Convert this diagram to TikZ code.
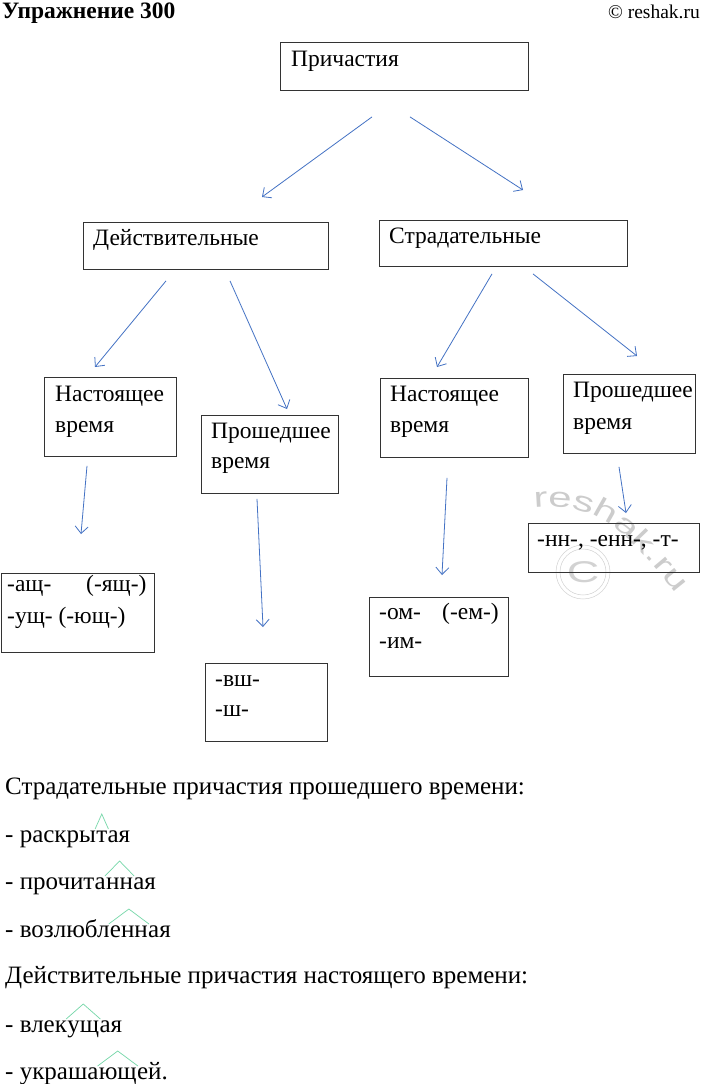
\documentclass[tikz,border=0pt]{standalone}
\usepackage{fontspec}
\setmainfont{Liberation Serif}
\newfontfamily\wmfont{Liberation Sans}[FakeStretch=1.5]
\usepackage{tikz}
\usetikzlibrary{positioning,arrows.meta,decorations.text}
\definecolor{arrblue}{HTML}{4472C4}
\definecolor{markgreen}{HTML}{74D7A8}
\tikzset{>={Straight Barb[length=7pt,width=13pt]}}
\tikzset{box/.style={draw=black!80, line width=0.9pt, inner sep=0pt, anchor=north west}}
\tikzset{lbl/.style={inner sep=0pt, anchor=base west, font=\fontsize{23.5}{28}\selectfont}}
\tikzset{txt/.style={inner sep=0pt, anchor=base west, font=\fontsize{25}{30}\selectfont}}
\tikzset{arr/.style={->, arrblue, line width=0.8pt}}
\tikzset{suf/.style={markgreen, line width=0.7pt}}
\tikzset{wm/.style={gray!35, line width=0.5pt}}

\begin{document}
\begin{tikzpicture}[x=1pt,y=-1pt]
	\fill[white] (0,0) rectangle (704,1084);
	\useasboundingbox (0,0) rectangle (704,1084);
	
	% watermark
	\draw[wm] (583,572) circle (27);
	\draw[wm] (583,572) circle (23);
	\node[inner sep=0pt, text=gray!35, font=\wmfont\fontsize{30}{30}\selectfont] (wmC) at (583,572) {C};
	\path[decorate, decoration={text along path, text color=gray!40,
		text={|\wmfont\fontsize{28}{28}\selectfont|reshak.ru}}]
		(534,508) .. controls (600,502) and (625,528) .. (690,612);
	
	\node[inner sep=0pt, anchor=base west, font=\fontsize{23.5}{28}\selectfont\bfseries] (title) at (2,19) {Упражнение 300};
	\node[inner sep=0pt, anchor=base east, font=\fontsize{19.5}{24}\selectfont] (site) at (700,19) {© reshak.ru};
	
	% boxes
	\node[box, minimum width=248, minimum height=48] (prich) at (280,42) {};
	\node[box, minimum width=245, minimum height=47] (deist) at (83,222) {};
	\node[box, minimum width=248, minimum height=46] (strad) at (379,220) {};
	\node[box, minimum width=132, minimum height=79] (nastL) at (44,377) {};
	\node[box, minimum width=137, minimum height=78] (proshL) at (201,415) {};
	\node[box, minimum width=148, minimum height=79] (nastR) at (380,378) {};
	\node[box, minimum width=132, minimum height=79] (proshR) at (563,374) {};
	\node[box, minimum width=153, minimum height=79] (ashch) at (1,573) {};
	\node[box, minimum width=122, minimum height=78] (vsh) at (205,663) {};
	\node[box, minimum width=139, minimum height=79] (om) at (369,597) {};
	\node[box, minimum width=171, minimum height=49] (nn) at (528,523) {};
	
	% labels
	\node[lbl] (prichT) at ([shift={(11,24)}]prich.north west) {Причастия};
	\node[lbl] (deistT) at ([shift={(10,23)}]deist.north west) {Действительные};
	\node[lbl] (stradT) at ([shift={(10,23)}]strad.north west) {Страдательные};
	\node[lbl] (nastLa) at ([shift={(11,24)}]nastL.north west) {Настоящее};
	\node[lbl] (nastLb) at ([shift={(11,55)}]nastL.north west) {время};
	\node[lbl] (proshLa) at ([shift={(10,23)}]proshL.north west) {Прошедшее};
	\node[lbl] (proshLb) at ([shift={(10,53)}]proshL.north west) {время};
	\node[lbl] (nastRa) at ([shift={(10,23)}]nastR.north west) {Настоящее};
	\node[lbl] (nastRb) at ([shift={(10,54)}]nastR.north west) {время};
	\node[lbl] (proshRa) at ([shift={(10,23)}]proshR.north west) {Прошедшее};
	\node[lbl] (proshRb) at ([shift={(10,55)}]proshR.north west) {время};
	\node[lbl] (ashchA) at ([shift={(6,18)}]ashch.north west) {-ащ-};
	\node[lbl] (ashchB) at ([shift={(85,18)}]ashch.north west) {(-ящ-)};
	\node[lbl] (ashchC) at ([shift={(6,50)}]ashch.north west) {-ущ- (-ющ-)};
	\node[lbl] (vshA) at ([shift={(10,23)}]vsh.north west) {-вш-};
	\node[lbl] (vshB) at ([shift={(10,53)}]vsh.north west) {-ш-};
	\node[lbl] (omA) at ([shift={(10,22)}]om.north west) {-ом-};
	\node[lbl] (omB) at ([shift={(73,22)}]om.north west) {(-ем-)};
	\node[lbl] (omC) at ([shift={(10,51)}]om.north west) {-им-};
	\node[lbl] (nnA) at ([shift={(9,23)}]nn.north west) {-нн-, -енн-, -т-};
	
	% arrows
	\draw[arr] ([shift={(92,26)}]prich.south west) -- ([shift={(179,-25)}]deist.north west);
	\draw[arr] ([shift={(130,26)}]prich.south west) -- ([shift={(144,-30)}]strad.north west);
	\draw[arr] ([shift={(83,11)}]deist.south west) -- ([shift={(51,-10)}]nastL.north west);
	\draw[arr] ([shift={(147,11)}]deist.south west) -- ([shift={(86,-6)}]proshL.north west);
	\draw[arr] ([shift={(113,7)}]strad.south west) -- ([shift={(57,-11)}]nastR.north west);
	\draw[arr] ([shift={(154,7)}]strad.south west) -- ([shift={(74,-18)}]proshR.north west);
	\draw[arr] ([shift={(43,9)}]nastL.south west) -- ([shift={(80,-39)}]ashch.north west);
	\draw[arr] ([shift={(56,5)}]proshL.south west) -- ([shift={(58,-36)}]vsh.north west);
	\draw[arr] ([shift={(67,20)}]nastR.south west) -- ([shift={(73,-22)}]om.north west);
	\draw[arr] ([shift={(56,13)}]proshR.south west) -- ([shift={(98,-10)}]nn.north west);
	
	% text below
	\node[txt] (head1) at (5,794) {Страдательные причастия прошедшего времени:};
	\node[txt] (w1) at (5,842) {- раскры};
	\node[txt] (w1s) at (w1.base east) {т};
	\node[txt] (w1e) at (w1s.base east) {ая};
	\node[txt] (w2) at (5,889) {- прочита};
	\node[txt] (w2s) at (w2.base east) {нн};
	\node[txt] (w2e) at (w2s.base east) {ая};
	\node[txt] (w3) at (5,937) {- возлюбл};
	\node[txt] (w3s) at (w3.base east) {енн};
	\node[txt] (w3e) at (w3s.base east) {ая};
	\node[txt] (head2) at (5,983) {Действительные причастия настоящего времени:};
	\node[txt] (w4) at (5,1032) {- влек};
	\node[txt] (w4s) at (w4.base east) {ущ};
	\node[txt] (w4e) at (w4s.base east) {ая};
	\node[txt] (w5) at (5,1079) {- украша};
	\node[txt] (w5s) at (w5.base east) {ющ};
	\node[txt] (w5e) at (w5s.base east) {ей.};
	
	% suffix marks
	\foreach \s in {w1s,w2s,w3s,w4s,w5s}
	\draw[suf] ([shift={(-1,-13)}]\s.base west) -- ([yshift=28]\s.base) -- ([shift={(1,-13)}]\s.base east);
\end{tikzpicture}
\end{document}
